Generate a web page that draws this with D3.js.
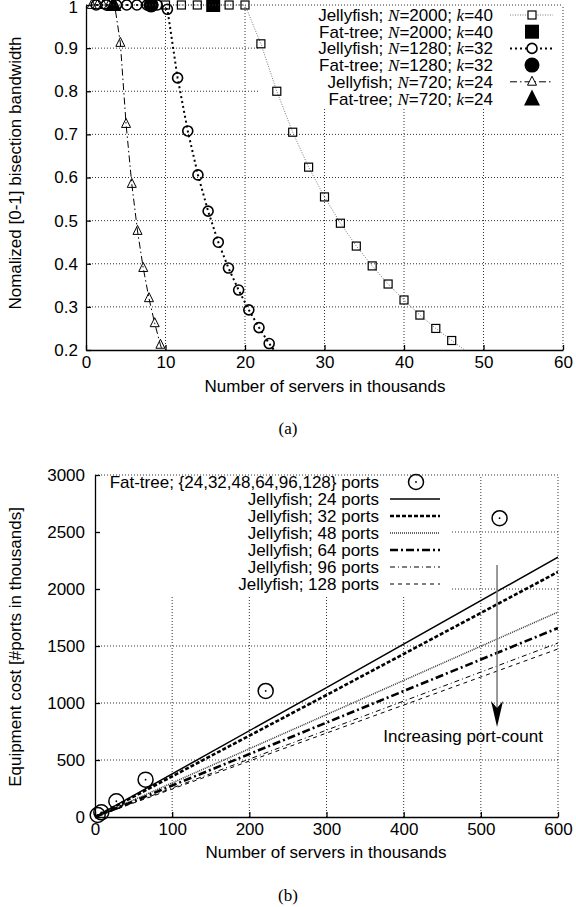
<!DOCTYPE html>
<html lang="en">
<head>
<meta charset="UTF-8">
<title>Jellyfish vs Fat-tree</title>
<style>
    body { margin: 0; background: #fff; }
    svg { display: block; font-family: "Liberation Sans", Arial, sans-serif; }
    .axis text { font-size: 17px; fill: #000; }
    .axis path, .axis line { stroke: #000; stroke-width: 1.3; }
    .grid line { stroke: #333; stroke-width: 1; stroke-dasharray: 1,2; }
    .lbl { font-size: 17px; fill: #000; }
    .cap { font-family: "Liberation Serif", "Times New Roman", serif; font-size: 17px; }
    .it { font-family: "Liberation Serif", serif; font-style: italic; }
</style>
</head>
<body>
<svg id="fig"></svg>
<script src="https://cdn.jsdelivr.net/npm/d3@7/dist/d3.min.js"></script>
<script>
// ---- (a) bisection bandwidth, servers in thousands ----
var jf2000Servers = [10, 12, 14, 16, 18, 20, 22, 24, 26, 28, 30, 32, 34, 36, 38, 40, 42, 44, 46, 48];
var jf2000Bw = [1, 1, 1, 1, 1, 1, 0.91, 0.80, 0.705, 0.624, 0.555, 0.494, 0.441, 0.395, 0.353, 0.316, 0.281, 0.25, 0.222, 0.195];
var jf1280Servers = [1.28, 2.56, 3.84, 5.12, 6.4, 7.68, 8.96, 10.24, 11.52, 12.8, 14.08, 15.36, 16.64, 17.92, 19.2, 20.48, 21.76, 23.04, 24.32];
var jf1280Bw = [1, 1, 1, 1, 1, 1, 1, 0.99, 0.831, 0.708, 0.606, 0.522, 0.45, 0.39, 0.339, 0.293, 0.252, 0.215, 0.183];
var jf720Servers = [0.72, 1.44, 2.16, 2.88, 3.6, 4.32, 5.04, 5.76, 6.48, 7.2, 7.92, 8.64, 9.36, 10.08];
var jf720Bw = [1, 1, 1, 1, 1, 0.912, 0.724, 0.585, 0.476, 0.39, 0.32, 0.262, 0.212, 0.17];
var ftServersA = [16.0, 8.192, 3.456];   // N=2000, 1280, 720
var ftBwA = [1, 1, 1];
var xTicksA = [0, 10, 20, 30, 40, 50, 60];
var yTicksA = [0.2, 0.3, 0.4, 0.5, 0.6, 0.7, 0.8, 0.9, 1];

// ---- (b) equipment cost ----
var ftPorts = [24, 32, 48, 64, 96, 128];
var ftServersB = [3.456, 8.192, 27.648, 65.536, 221.184, 524.288];
var ftCostB = [17.28, 40.96, 138.24, 327.68, 1105.92, 2621.44];
var jfServersB = [0, 300, 600];
var jfCost24 = [0, 1135, 2280];
var jfCost32 = [0, 1070, 2150];
var jfCost48 = [0, 898, 1798];
var jfCost64 = [0, 828, 1658];
var jfCost96 = [0, 762, 1526];
var jfCost128 = [0, 736, 1474];
var xTicksB = [0, 100, 200, 300, 400, 500, 600];
var yTicksB = [0, 500, 1000, 1500, 2000, 2500, 3000];

var svg = d3.select("#fig").attr("width", 576).attr("height", 907);

var xA = d3.scaleLinear().domain([0, 60]).range([86, 563]);
var yA = d3.scaleLinear().domain([0.2, 1]).range([350, 5]);
var xB = d3.scaleLinear().domain([0, 600]).range([95, 558]);
var yB = d3.scaleLinear().domain([0, 3000]).range([817, 475]);

var defs = svg.append("defs");
defs.append("clipPath").attr("id", "clipA").append("rect")
    .attr("x", 86).attr("y", 0).attr("width", 477).attr("height", 350);
defs.append("clipPath").attr("id", "clipB").append("rect")
    .attr("x", 95).attr("y", 475).attr("width", 463).attr("height", 342);

function zip(xs, ys) {
    return xs.map(function (v, i) { return [v, ys[i]]; });
}

function triPath(s) {
    return "M0," + (-s * 0.62) + "L" + (s / 2) + "," + (s * 0.38) + "L" + (-s / 2) + "," + (s * 0.38) + "Z";
}

// grid, white key box, axes
function frame(x, y, xt, yt, key, xfmt, yfmt, ypad) {
    var g = svg.append("g").attr("class", "grid");
    g.selectAll(".gx").data(xt.slice(1, -1)).enter().append("line")
        .attr("x1", x).attr("x2", x).attr("y1", y.range()[0]).attr("y2", y.range()[1]);
    g.selectAll(".gy").data(yt.slice(1, -1)).enter().append("line")
        .attr("y1", y).attr("y2", y).attr("x1", x.range()[0]).attr("x2", x.range()[1]);
    svg.append("rect").attr("x", key[0]).attr("y", key[1]).attr("width", key[2]).attr("height", key[3])
        .attr("fill", "#fff");
    svg.append("g").attr("class", "axis")
        .attr("transform", "translate(0," + y.range()[0] + ")")
        .call(d3.axisBottom(x).tickValues(xt).tickFormat(xfmt).tickSizeInner(-5).tickSizeOuter(0).tickPadding(6));
    return svg.append("g").attr("class", "axis")
        .attr("transform", "translate(" + x.range()[0] + ",0)")
        .call(d3.axisLeft(y).tickValues(yt).tickFormat(yfmt).tickSizeInner(-5).tickSizeOuter(0).tickPadding(ypad));
}

function border(x, y) {
    var g = svg.append("g").attr("class", "grid");
    g.append("line").attr("x1", x.range()[0]).attr("x2", x.range()[1]).attr("y1", y.range()[1]).attr("y2", y.range()[1]);
    g.append("line").attr("x1", x.range()[1]).attr("x2", x.range()[1]).attr("y1", y.range()[0]).attr("y2", y.range()[1]);
}

function drawLine(g, x, y, pts, style) {
    g.append("path").datum(pts)
        .attr("d", d3.line().x(function (d) { return x(d[0]); }).y(function (d) { return y(d[1]); }))
        .attr("fill", "none").attr("stroke", style.color || "#000")
        .attr("stroke-width", style.width).attr("stroke-dasharray", style.dash);
}

function drawMarks(g, x, y, pts, kind) {
    var sel = g.selectAll(null).data(pts.filter(function (d) { return d[1] >= y.domain()[0]; })).enter();
    if (kind === "sq") {
        sel.append("rect").attr("x", function (d) { return x(d[0]) - 4; }).attr("y", function (d) { return y(d[1]) - 4; })
            .attr("width", 8).attr("height", 8).attr("fill", "none").attr("stroke", "#000").attr("stroke-width", 1.2);
    } else if (kind === "ci") {
        sel.append("circle").attr("cx", function (d) { return x(d[0]); }).attr("cy", function (d) { return y(d[1]); })
            .attr("r", 5).attr("fill", "none").attr("stroke", "#000").attr("stroke-width", 1.6);
    } else if (kind === "tr") {
        sel.append("path").attr("d", triPath(9))
            .attr("transform", function (d) { return "translate(" + x(d[0]) + "," + y(d[1]) + ")"; })
            .attr("fill", "none").attr("stroke", "#000").attr("stroke-width", 1);
    }
}

// ================= (a) =================
var yAxisA = frame(xA, yA, xTicksA, yTicksA, [258, 5, 305, 103], d3.format("d"),
    function (d) { return d === 1 ? "1" : d3.format(".1f")(d); }, 8);
// keep the top "1" inside the picture
yAxisA.selectAll(".tick text").filter(function (d) { return d === 1; }).attr("dy", "0.45em");

var styleSq = {color: "#777", width: 1, dash: "1,1.5"};
var styleCi = {width: 2, dash: "2,3"};
var styleTr = {width: 1, dash: "7,3,1.5,3"};

var pa = svg.append("g").attr("clip-path", "url(#clipA)");
drawLine(pa, xA, yA, zip(jf2000Servers, jf2000Bw), styleSq);
drawLine(pa, xA, yA, zip(jf1280Servers, jf1280Bw), styleCi);
drawLine(pa, xA, yA, zip(jf720Servers, jf720Bw), styleTr);

var pm = svg.append("g");
drawMarks(pm, xA, yA, zip(jf2000Servers, jf2000Bw), "sq");
drawMarks(pm, xA, yA, zip(jf1280Servers, jf1280Bw), "ci");
drawMarks(pm, xA, yA, zip(jf720Servers, jf720Bw), "tr");

// fat-tree: filled square, circle, triangle
pm.append("rect").attr("x", xA(ftServersA[0]) - 7).attr("y", yA(ftBwA[0]) - 7).attr("width", 14).attr("height", 14);
pm.append("circle").attr("cx", xA(ftServersA[1])).attr("cy", yA(ftBwA[1])).attr("r", 7.5);
pm.append("path").attr("d", triPath(16)).attr("transform", "translate(" + xA(ftServersA[2]) + "," + yA(ftBwA[2]) + ")");

// key (a)
var keyA = [
    {name: "Jellyfish; ", n: "2000", k: "40", mark: "sq", style: styleSq},
    {name: "Fat-tree; ", n: "2000", k: "40", mark: "fsq"},
    {name: "Jellyfish; ", n: "1280", k: "32", mark: "ci", style: styleCi},
    {name: "Fat-tree; ", n: "1280", k: "32", mark: "fci"},
    {name: "Jellyfish; ", n: "720", k: "24", mark: "tr", style: styleTr},
    {name: "Fat-tree; ", n: "720", k: "24", mark: "ftr"}
];
keyA.forEach(function (d, i) {
    var cy = 15 + i * 16.7;
    var t = svg.append("text").attr("class", "lbl").attr("x", 493).attr("y", cy + 6).attr("text-anchor", "end");
    t.append("tspan").text(d.name);
    t.append("tspan").attr("class", "it").text("N");
    t.append("tspan").text("=" + d.n + "; ");
    t.append("tspan").attr("class", "it").text("k");
    t.append("tspan").text("=" + d.k);
    if (d.style) {
        svg.append("line").attr("x1", 510).attr("x2", 553).attr("y1", cy).attr("y2", cy)
            .attr("stroke", d.style.color || "#000").attr("stroke-width", d.style.width).attr("stroke-dasharray", d.style.dash);
        if (d.mark === "sq") svg.append("rect").attr("x", 528).attr("y", cy - 4).attr("width", 8).attr("height", 8).attr("fill", "#fff").attr("stroke", "#000").attr("stroke-width", 1.2);
        if (d.mark === "ci") svg.append("circle").attr("cx", 532).attr("cy", cy).attr("r", 5).attr("fill", "#fff").attr("stroke", "#000").attr("stroke-width", 1.6);
        if (d.mark === "tr") svg.append("path").attr("d", triPath(9)).attr("transform", "translate(532," + cy + ")").attr("fill", "#fff").attr("stroke", "#000");
    } else if (d.mark === "fsq") {
        svg.append("rect").attr("x", 525).attr("y", cy - 7).attr("width", 14).attr("height", 14);
    } else if (d.mark === "fci") {
        svg.append("circle").attr("cx", 532).attr("cy", cy).attr("r", 7.5);
    } else {
        svg.append("path").attr("d", triPath(16)).attr("transform", "translate(532," + (cy + 1) + ")");
    }
});
border(xA, yA);

svg.append("text").attr("class", "lbl").attr("text-anchor", "middle")
    .attr("transform", "translate(21,173) rotate(-90)").text("Nomalized [0-1] bisection bandwidth");
svg.append("text").attr("class", "lbl").attr("text-anchor", "middle").attr("x", 325).attr("y", 392)
    .text("Number of servers in thousands");
svg.append("text").attr("class", "cap").attr("text-anchor", "middle").attr("x", 288).attr("y", 434).text("(a)");

// ================= (b) =================
frame(xB, yB, xTicksB, yTicksB, [97, 476, 353, 119], d3.format("d"), d3.format("d"), 10);

var stylesB = [
    {width: 1.5, dash: null},
    {width: 2.6, dash: "4,2"},
    {width: 1.5, dash: "1,1", color: "#333"},
    {width: 2.6, dash: "8,3,2,3"},
    {width: 1, dash: "5,3,1,3"},
    {width: 1, dash: "4,4"}
];
var jfCostsB = [jfCost24, jfCost32, jfCost48, jfCost64, jfCost96, jfCost128];
var jfPortsB = [24, 32, 48, 64, 96, 128];

var pb = svg.append("g").attr("clip-path", "url(#clipB)");
jfCostsB.forEach(function (c, i) {
    drawLine(pb, xB, yB, zip(jfServersB, c), stylesB[i]);
});

var fb = svg.append("g");
zip(ftServersB, ftCostB).forEach(function (d) {
    fb.append("circle").attr("cx", xB(d[0])).attr("cy", yB(d[1])).attr("r", 7.5)
        .attr("fill", "none").attr("stroke", "#000").attr("stroke-width", 1.5);
    fb.append("circle").attr("cx", xB(d[0])).attr("cy", yB(d[1])).attr("r", 0.9);
});

// arrow "Increasing port-count"
var ax = xB(521), ayTop = yB(2210), ayTip = yB(790);
svg.append("line").attr("x1", ax).attr("x2", ax).attr("y1", ayTop).attr("y2", ayTip - 10)
    .attr("stroke", "#777").attr("stroke-width", 1.5);
svg.append("path").attr("d", "M" + ax + "," + ayTip + "L" + (ax - 6) + "," + (ayTip - 26) + "L" + ax + "," + (ayTip - 19) + "L" + (ax + 6) + "," + (ayTip - 26) + "Z");
svg.append("text").attr("class", "lbl").attr("text-anchor", "middle").attr("x", xB(477)).attr("y", yB(655))
    .text("Increasing port-count");

// key (b)
var kb0 = 482, kbStep = 17;
svg.append("text").attr("class", "lbl").attr("x", 379).attr("y", kb0 + 6).attr("text-anchor", "end")
    .text("Fat-tree; {" + ftPorts.join(",") + "} ports");
svg.append("circle").attr("cx", 416).attr("cy", kb0).attr("r", 7.5).attr("fill", "none").attr("stroke", "#000").attr("stroke-width", 1.5);
svg.append("circle").attr("cx", 416).attr("cy", kb0).attr("r", 0.9);
jfPortsB.forEach(function (p, i) {
    var cy = kb0 + (i + 1) * kbStep;
    var s = stylesB[i];
    svg.append("text").attr("class", "lbl").attr("x", 379).attr("y", cy + 6).attr("text-anchor", "end")
        .text("Jellyfish; " + p + " ports");
    svg.append("line").attr("x1", 390).attr("x2", 440).attr("y1", cy).attr("y2", cy)
        .attr("stroke", s.color || "#000").attr("stroke-width", s.width).attr("stroke-dasharray", s.dash);
});
border(xB, yB);

svg.append("text").attr("class", "lbl").attr("text-anchor", "middle")
    .attr("transform", "translate(21,647) rotate(-90)").text("Equipment cost [#ports in thousands]");
svg.append("text").attr("class", "lbl").attr("text-anchor", "middle").attr("x", 326).attr("y", 858)
    .text("Number of servers in thousands");
svg.append("text").attr("class", "cap").attr("text-anchor", "middle").attr("x", 288).attr("y", 901).text("(b)");
</script>
</body>
</html>
